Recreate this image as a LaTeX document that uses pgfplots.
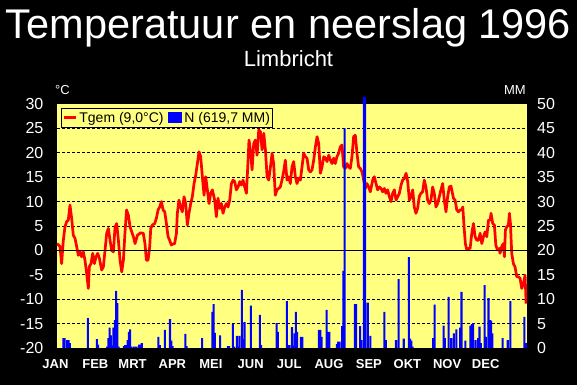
\documentclass[border=0pt]{standalone}
\usepackage{pgfplots}
\pgfplotsset{compat=1.18}
\usepackage{fontspec}
\setmainfont{Liberation Sans}
\definecolor{ybg}{RGB}{255,255,128}
\begin{document}
\begin{tikzpicture}[x=1pt,y=1pt]
\fill[black] (0,0) rectangle (577,385);
\node[white, anchor=base, font=\fontsize{41.5}{41.5}\selectfont, inner sep=0pt] at (288.5,346) {Temperatuur en neerslag 1996};
\node[white, anchor=base, font=\fontsize{22}{22}\selectfont, inner sep=0pt] at (288.5,318) {Limbricht};
\node[white, anchor=base west, font=\fontsize{13}{13}\selectfont, inner sep=0pt] at (55,290) {°C};
\node[white, anchor=base east, font=\fontsize{13}{13}\selectfont, inner sep=0pt] at (526,290) {MM};
\begin{axis}[at={(57pt,37pt)}, anchor=south west, scale only axis, width=470pt, height=244pt,
  xmin=0, xmax=366, ymin=-20, ymax=30,
  axis line style={draw=none}, major tick length=0pt,
  axis background/.style={fill=ybg},
  /pgf/number format/assume math mode=true,
  ytick={-20,-15,...,30},
  yticklabel style={font=\fontsize{16}{16}\selectfont, text=white, inner sep=0pt, xshift=-13.5pt},
  xtick={0,31,60,91,121,152,182,213,244,274,305,335},
  xticklabels={JAN,FEB,MRT,APR,MEI,JUN,JUL,AUG,SEP,OKT,NOV,DEC},
  xticklabel style={font=\bfseries\fontsize{13}{13}\selectfont, text=white, inner sep=0pt, anchor=base, yshift=-20.7pt, xshift=-1.5pt},
  extra y ticks={-15,-10,-5,5,10,15,20,25}, extra y tick labels={},
  extra y tick style={grid=major},
  major grid style={black, dash pattern=on 3pt off 2pt, line width=0.9pt},
  legend columns=2,
  legend style={at={(rel axis cs:0,1)}, anchor=north west, xshift=4pt, yshift=-4pt,
    draw=black, line width=0.8pt, fill=ybg, font=\fontsize{14}{14}\selectfont,
    inner xsep=1pt, inner ysep=2pt, nodes={inner sep=1.5pt},
    /tikz/every odd column/.append style={column sep=1pt},
    /tikz/every even column/.append style={column sep=3pt}},
]
\addplot[red, line width=2.7pt, line join=round, legend image code/.code={\draw[red, line width=2.5pt] (0pt,0pt) -- (12pt,0pt);}] table {
d t
0 1.4
2.3 0.8
3.6 -2.7
4.9 2.0
6.2 4.8
7.5 5.9
8.8 6.2
10.1 9.3
11.4 6.6
12.7 3.1
14.0 2.5
15.3 0.8
16.6 -1.0
17.9 -0.3
19.2 -1.3
20.5 -0.3
21.8 -2.0
23.1 -4.7
24.4 -7.8
25.2 -3.3
26.5 -2.7
27.8 -0.6
29.1 -2.7
30.4 -1.3
31.7 -0.6
33.0 -1.6
34.8 -4.0
36.1 -3.4
37.4 0.0
38.7 3.5
40.0 4.5
41.3 2.1
42.6 0.0
43.9 -0.3
45.2 4.8
46.5 5.5
47.8 2.1
49.1 -2.0
50.4 -4.4
51.7 -2.0
52.9 3.5
54.2 8.3
55.6 7.2
56.9 4.8
58.2 3.8
59.5 2.8
60.8 1.4
62.6 3.1
65.2 3.6
67.2 3.5
68.5 1.4
69.6 -2.0
70.9 -2.0
72.2 0.8
73.0 4.5
74.2 5.2
76.1 5.5
77.4 6.6
78.7 8.3
80.0 8.9
81.3 10.0
82.6 8.3
83.9 7.9
85.2 5.5
86.5 2.8
87.7 2.1
89.0 1.1
90.3 1.3
91.6 1.4
93.0 3.5
93.7 7.6
95.0 10.3
96.3 8.9
97.6 7.9
98.9 11.0
100.2 9.6
101.5 5.2
102.8 7.6
104.1 9.6
105.4 11.0
106.7 13.7
108.0 15.4
109.3 17.8
110.6 20.2
111.9 19.2
113.2 15.1
114.5 11.3
115.8 15.1
117.1 12.4
118.4 9.6
119.7 11.7
121.0 12.4
122.8 10.3
124.1 6.9
125.4 10.7
126.7 8.6
128.0 9.6
129.3 7.6
130.6 8.9
131.9 9.6
133.2 8.9
134.5 10.3
135.8 13.7
137.1 14.4
138.4 14.1
139.7 12.4
141.0 13.0
142.3 14.1
143.6 13.4
144.9 14.4
146.2 13.0
147.5 11.7
148.8 18.5
149.5 22.6
150.6 20.6
151.9 16.5
153.2 21.9
154.5 22.6
155.8 19.5
157.1 24.7
158.4 24.3
159.7 20.6
161.0 24.0
162.3 20.6
163.6 15.1
164.9 14.4
166.2 17.1
167.5 19.9
168.7 17.8
170.0 11.3
171.3 12.4
172.6 12.7
173.9 13.0
175.2 14.4
176.5 16.1
177.8 18.5
179.1 14.4
180.4 15.1
181.7 13.7
183.0 17.1
184.3 18.2
185.6 15.1
186.9 13.7
188.2 14.8
189.5 14.4
190.8 17.1
192.1 19.9
193.4 19.2
194.7 18.9
196.0 16.5
197.3 16.1
198.6 16.5
199.9 18.5
201.2 21.2
202.5 23.3
203.8 21.9
205.1 15.8
206.4 17.1
207.7 19.2
209.0 18.9
210.3 18.2
211.6 19.5
212.9 18.5
214.2 17.8
215.5 18.9
216.7 17.8
218.0 19.2
219.3 19.9
220.6 21.2
221.9 21.6
223.2 17.1
224.5 16.8
225.8 17.8
227.1 17.1
228.4 16.8
229.7 19.2
231.0 23.3
232.3 23.6
233.6 19.9
234.9 17.1
236.2 16.8
237.5 16.1
238.8 14.4
240.1 12.7
241.4 13.7
242.7 13.0
244.0 12.0
245.8 14.4
247.1 15.1
248.4 13.7
249.7 12.4
251.0 13.0
252.3 12.7
253.6 12.0
254.9 12.7
256.2 11.7
257.5 12.4
258.8 11.0
260.1 10.0
261.4 11.7
262.7 12.4
264.0 10.3
265.3 11.0
266.6 11.7
267.9 13.4
269.2 14.4
270.5 14.8
271.8 15.8
273.1 14.1
274.4 10.3
275.7 11.0
277.0 12.4
278.2 8.9
279.5 7.6
280.8 8.6
282.1 11.0
283.4 11.7
284.7 12.0
286.0 14.4
287.3 13.0
288.6 10.3
289.9 9.6
291.2 10.3
292.5 13.0
293.8 11.7
295.1 8.9
296.4 9.6
297.7 11.0
299.0 12.4
300.3 13.7
301.6 10.3
302.9 7.9
304.2 11.0
305.5 13.0
306.8 13.2
308.7 10.7
310.0 10.3
311.3 8.3
312.6 7.9
313.9 8.3
315.2 8.3
316.0 8.9
317.0 4.8
318.0 1.4
319.1 0.1
320.4 0.4
321.7 0.4
323.0 3.5
324.3 5.5
325.6 2.8
326.9 2.1
328.2 2.1
329.5 3.5
330.8 1.4
332.1 2.8
333.4 3.8
334.7 2.8
336.0 6.2
337.3 6.2
338.0 7.6
339.3 5.5
340.6 5.2
341.7 1.1
343.0 0.1
344.3 0.4
345.0 -0.6
346.3 0.8
347.6 1.4
348.4 -1.3
349.2 4.2
350.2 4.8
351.5 5.2
352.3 7.6
353.1 5.5
354.1 -0.6
355.4 -2.7
356.7 -3.4
358.0 -5.4
359.3 -5.4
360.6 -5.7
361.9 -7.8
363.2 -6.8
364.5 -5.1
365.3 -10.9
};
\addlegendentry{Tgem (9,0°C)}
\addlegendimage{legend image code/.code={\fill[blue] (0pt,-5pt) rectangle (13pt,5pt);}}
\addlegendentry{N (619,7 MM)}
\end{axis}
\begin{axis}[at={(57pt,37pt)}, anchor=south west, scale only axis, width=470pt, height=244pt,
  xmin=0, xmax=366, ymin=0, ymax=50, clip=false,
  axis line style={draw=none}, major tick length=0pt,
  /pgf/number format/assume math mode=true,
  xtick=\empty,
  ytick={0,5,...,50}, yticklabel pos=right,
  yticklabel style={font=\fontsize{16}{16}\selectfont, text=white, inner sep=0pt, xshift=10pt},
  extra y ticks={20}, extra y tick labels={},
  extra y tick style={grid=major, major grid style={black, solid, line width=0.9pt}},
]
\addplot[ybar, fill=blue, draw=none, bar width=1.6] table {
d n
5 2.0
6 2.0
8 1.6
9 1.6
10 1.0
24 6.1
31 1.8
32 0.7
39 0.3
40 2.0
41 4.2
42 2.6
43 0.5
44 4.2
45 5.7
46 11.7
47 9.2
48 0.3
52 0.4
53 0.6
54 0.6
55 1.6
56 3.3
57 3.8
58 0.3
60 0.3
61 0.3
62 0.3
64 0.7
65 0.7
66 1.0
79 2.3
80 0.6
84 3.7
88 5.9
89 1.5
90 0.4
100 2.9
101 0.4
113 2.0
121 7.4
122 9.0
123 3.1
127 2.6
133 0.4
134 0.4
137 4.9
138 0.3
140 2.5
141 0.3
142 2.5
144 11.9
145 1.8
146 5.3
151 8.7
158 6.8
159 0.6
171 5.1
172 3.3
179 9.6
180 0.6
181 0.6
183 4.3
184 0.5
185 3.0
186 7.4
187 3.3
190 2.3
191 2.3
204 3.7
205 3.7
206 2.3
210 7.8
211 3.3
212 3.3
218 0.8
219 1.3
220 1.3
222 4.5
223 15.8
224 45.0
232 9.0
233 9.0
236 4.5
237 1.6
239 51.4
240 51.4
242 9.3
244 2.5
255 7.4
256 1.6
264 1.6
266 14.1
270 1.9
274 18.6
275 1.9
276 1.5
277 0.3
293 2.0
294 8.9
301 4.6
302 2.0
305 10.5
307 2.0
309 3.0
311 3.8
314 4.2
315 11.5
318 1.5
322 4.6
323 4.9
324 5.1
326 1.6
328 2.0
329 4.4
330 1.0
333 12.9
334 2.3
336 10.2
337 5.7
338 5.6
339 3.0
347 2.0
351 1.6
353 9.6
364 6.4
365 1.0
};
\end{axis}
\pgfresetboundingbox
\useasboundingbox (0,0) rectangle (577,385);
\end{tikzpicture}
\end{document}
